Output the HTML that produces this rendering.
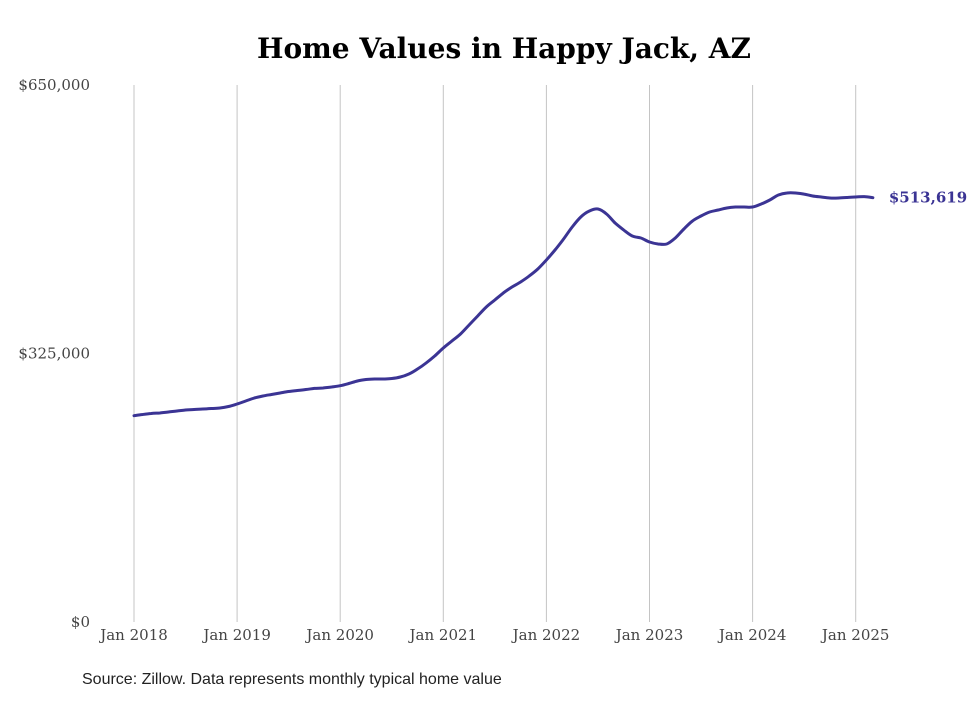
<!DOCTYPE html>
<html><head><meta charset="utf-8"><style>
body{margin:0;background:#fff;}
svg text{font-family:"DejaVu Serif","Liberation Serif",serif;}
</style></head><body>
<svg id="chart" width="980" height="699" xmlns="http://www.w3.org/2000/svg">
<rect width="980" height="699" fill="#fff"/>
<text x="504" y="58" text-anchor="middle" font-size="28" font-weight="bold" fill="#000">Home Values in Happy Jack, AZ</text>
<g id="grid"></g><g id="yaxis"></g><g id="xaxis"></g><g id="series"></g>
<text x="82" y="684" font-size="16" fill="#222" style="font-family:'Liberation Sans',sans-serif">Source: Zillow. Data represents monthly typical home value</text>
</svg>
<script>
const xTickLabels=["Jan 2018","Jan 2019","Jan 2020","Jan 2021","Jan 2022","Jan 2023","Jan 2024","Jan 2025"];
const yTicks=[0,325000,650000];
const startYear=2018;
const values=[249700,251200,252400,253000,254200,255400,256600,257200,257800,258400,259000,260800,
263900,267500,271100,273600,275400,277200,279000,280200,281400,282700,283300,284500,
286000,288700,291700,293500,294100,294100,294700,296500,300200,306200,313500,322000,
331700,340100,348600,359500,370400,381300,389800,398300,405500,411600,418800,427300,
438200,450300,463600,478100,490200,497500,499900,493900,483000,474500,467200,464800,
460000,457600,457600,464800,475700,485400,491400,496300,498700,501100,502300,502300,
502300,505900,510800,516800,519300,519300,518000,515600,514400,513200,513200,513800,
514400,514900,513619];
const NS="http://www.w3.org/2000/svg";
const x0=134,pxPerYear=103.1,yTop=85,yBot=622,yMax=650000;
function xScale(i){return x0+i*pxPerYear/12;}
function yScale(v){return yBot-(v/yMax)*(yBot-yTop);}
function mk(t,a){const e=document.createElementNS(NS,t);for(const k in a)e.setAttribute(k,a[k]);return e;}
const grid=document.getElementById('grid'),xa=document.getElementById('xaxis'),ya=document.getElementById('yaxis'),se=document.getElementById('series');
xTickLabels.forEach((lab,i)=>{
 const x=xScale(i*12);
 const l=mk('line',{x1:x,x2:x,y1:yTop,y2:yBot,stroke:'#c4c4c4','stroke-width':1});
 
 
 grid.appendChild(l);
 const t=mk('text',{x:x,y:640,'text-anchor':'middle','font-size':15,fill:'#444'});
 
 
 t.textContent=lab;xa.appendChild(t);
});
yTicks.forEach(v=>{
 const t=mk('text',{x:90,y:yScale(v)+5,'text-anchor':'end','font-size':15,fill:'#444'});
 
 
 t.textContent='$'+v.toLocaleString('en-US');ya.appendChild(t);
});
const pts=values.map((v,i)=>[xScale(i),yScale(v)]);
let d='M'+pts[0][0].toFixed(1)+','+pts[0][1].toFixed(1);
for(let i=0;i<pts.length-1;i++){
 const p0=pts[Math.max(0,i-1)],p1=pts[i],p2=pts[i+1],p3=pts[Math.min(pts.length-1,i+2)];
 const c1=[p1[0]+(p2[0]-p0[0])/6,p1[1]+(p2[1]-p0[1])/6];
 const c2=[p2[0]-(p3[0]-p1[0])/6,p2[1]-(p3[1]-p1[1])/6];
 d+=' C'+c1[0].toFixed(1)+','+c1[1].toFixed(1)+' '+c2[0].toFixed(1)+','+c2[1].toFixed(1)+' '+p2[0].toFixed(1)+','+p2[1].toFixed(1);
}
const p=mk('path',{d:d,fill:'none',stroke:'#3b3494','stroke-width':3,'stroke-linejoin':'round','stroke-linecap':'round'});


se.appendChild(p);
const last=values[values.length-1];
const lt=mk('text',{x:xScale(values.length-1)+16,y:yScale(last)+5,'font-size':15,'font-weight':'bold',fill:'#3b3494'});


lt.textContent='$'+last.toLocaleString('en-US');se.appendChild(lt);
</script>
</body></html>
